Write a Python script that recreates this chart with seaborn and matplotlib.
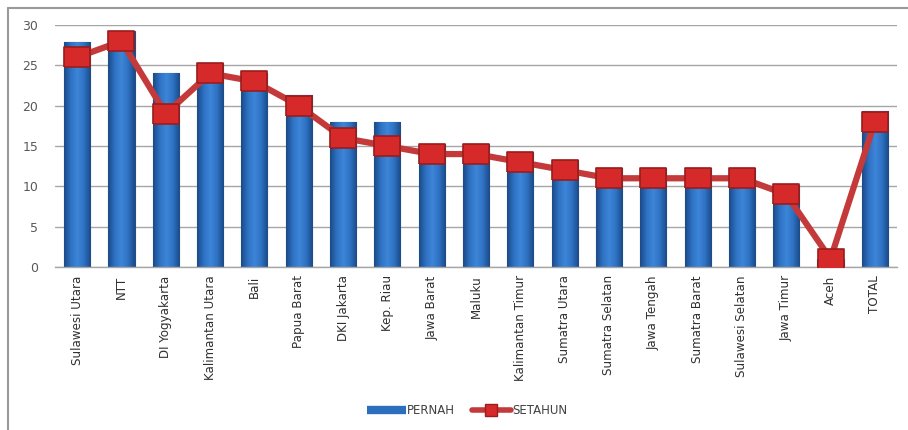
import numpy as np
import pandas as pd
import matplotlib
matplotlib.use("Agg")
import matplotlib.pyplot as plt
from matplotlib.lines import Line2D
from matplotlib.colors import LinearSegmentedColormap
import seaborn as sns

# Provinces (plus the national total) and the two percentages per province
categories = ["Sulawesi Utara", "NTT", "DI Yogyakarta", "Kalimantan Utara", "Bali",
              "Papua Barat", "DKI Jakarta", "Kep. Riau", "Jawa Barat", "Maluku",
              "Kalimantan Timur", "Sumatra Utara", "Sumatra Selatan", "Jawa Tengah",
              "Sumatra Barat", "Sulawesi Selatan", "Jawa Timur", "Aceh", "TOTAL"]
pernah = [27.9, 29.3, 24.0, 25.3, 24.1, 21.3, 18.0, 18.0, 15.3, 15.3,
          14.3, 13.3, 12.3, 12.3, 12.3, 12.3, 10.2, 1.0, 19.3]
setahun = [26.0, 28.0, 19.0, 24.0, 23.0, 20.0, 16.0, 15.0, 14.0, 14.0,
           13.0, 12.0, 11.0, 11.0, 11.0, 11.0, 9.0, 1.0, 18.0]
y_ticks = [0, 5, 10, 15, 20, 25, 30]

df = pd.DataFrame({"provinsi": categories, "PERNAH": pernah, "SETAHUN": setahun})

sns.set_theme(style="white")
plt.rcParams["font.family"] = ["DejaVu Sans"]

W, H = 908, 430
fig = plt.figure(figsize=(W / 100, H / 100), dpi=100)
fig.patch.set_facecolor("white")
ax = fig.add_axes([55 / W, 163 / H, 842 / W, 242 / H])

bar_blue = "#2d6fbf"
sns.barplot(data=df, x="provinsi", y="PERNAH", color=bar_blue, width=0.59,
            saturation=1, edgecolor="#1d4f8e", linewidth=0.8, ax=ax, zorder=2)

# cylinder-like shading inside each bar
shade = LinearSegmentedColormap.from_list(
    "barshade", ["#1b4a86", "#2f72c4", "#3d86d8", "#2f72c4", "#1b4a86"])
grad = np.linspace(0, 1, 64).reshape(1, -1)
for p in list(ax.patches):
    x0, y0 = p.get_x(), p.get_y()
    w, h = p.get_width(), p.get_height()
    im = ax.imshow(grad, extent=[x0, x0 + w, y0, y0 + h], aspect="auto",
                   cmap=shade, zorder=2.1, interpolation="bicubic")
    im.set_clip_path(p)

sns.pointplot(data=df, x="provinsi", y="SETAHUN", color="#c43a3a", errorbar=None,
              ax=ax, zorder=4)
line = ax.lines[-1]
rect_marker = [(-1.25, -1), (1.25, -1), (1.25, 1), (-1.25, 1), (-1.25, -1)]
line.set_marker(rect_marker)
line.set_markersize(18.5)
line.set_markerfacecolor("#d62a2a")
line.set_markeredgecolor("#9c1c1c")
line.set_markeredgewidth(1.2)
line.set_linewidth(4.5)
line.set_color("#c43a3a")
line.set_zorder(4)

ax.set_xlim(-0.5, len(categories) - 0.5)
ax.set_ylim(0, 30)
ax.set_yticks(y_ticks)
ax.set_yticklabels([str(t) for t in y_ticks], fontsize=9, color="#595959")
ax.tick_params(axis="y", length=0, pad=12)
ax.tick_params(axis="x", length=0, pad=6)
ax.set_xticks(range(len(categories)))
ax.set_xticklabels(categories, rotation=90, fontsize=8.6, color="#303030",
                   va="top", ha="center")
ax.set_xlabel("")
ax.set_ylabel("")
ax.grid(axis="y", color="#a6a6a6", linewidth=1, zorder=0)
ax.set_axisbelow(True)
for s in ["left", "right", "top"]:
    ax.spines[s].set_visible(False)
ax.spines["bottom"].set_color("#a6a6a6")
ax.spines["bottom"].set_linewidth(1)
ax.set_facecolor("white")

# legend at the bottom
handles = [
    Line2D([], [], color=bar_blue, linewidth=6, solid_capstyle="butt"),
    Line2D([], [], color="#c43a3a", linewidth=4, marker="s", markersize=8,
           markerfacecolor="#d62a2a", markeredgecolor="#9c1c1c"),
]
fig.legend(handles, ["PERNAH", "SETAHUN"], loc="center",
           bbox_to_anchor=(467 / W, 1 - 411 / H), ncol=2, frameon=False,
           handlelength=3.3, handletextpad=0.1, columnspacing=1.4,
           prop={"size": 8.5}, labelcolor="#404040")

# chart area border (top and left edges)
border = "#9a9a9a"
fig.add_artist(Line2D([8 / W, 8 / W], [0, 1 - 8 / H], color=border, linewidth=1.5))
fig.add_artist(Line2D([8 / W, 1], [1 - 8 / H, 1 - 8 / H], color=border, linewidth=1.5))

fig.savefig("out.png", dpi=100, facecolor="white")
